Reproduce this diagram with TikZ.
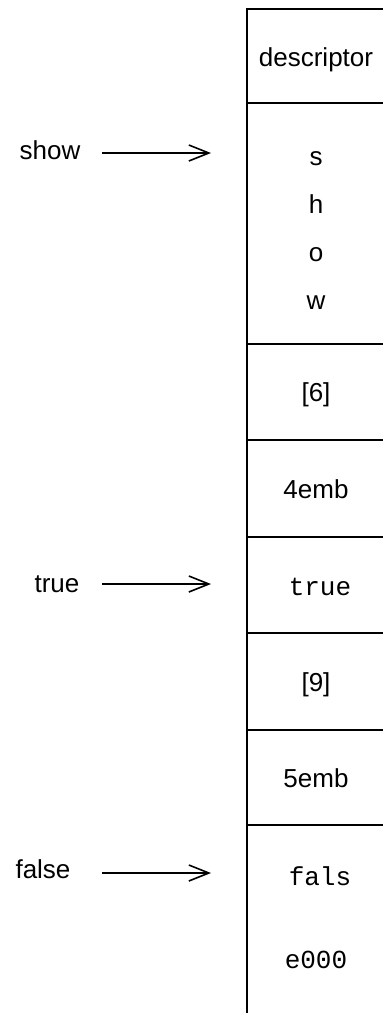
\documentclass[tikz,border=0pt]{standalone}
\usepackage{fontspec}
\setmainfont{Liberation Sans}
\setmonofont{Liberation Mono}
\usetikzlibrary{arrows.meta}
\begin{document}
\begin{tikzpicture}[x=1pt,y=-1pt,
  wall/.style={line width=1.6pt},
  txt/.style={font=\fontsize{26}{30}\selectfont, inner sep=0pt, anchor=base},
  mono/.style={font=\ttfamily\fontsize{26}{30}\selectfont, inner sep=0pt, anchor=base},
  ptr/.style={line width=1.6pt, -{Straight Barb[length=20pt,width=16pt,line width=1.6pt]}}]
\useasboundingbox (0,0) rectangle (383,1013);
% column
\draw[wall] (383,9) -- (247,9) -- (247,1013);
\foreach \yy in {103,344,440,537,633,730,825}
  \draw[wall] (247,\yy) -- (383,\yy);
% cell contents
\node[txt] (desc) at (316,66) {descriptor};
\node[txt] (cs) at (316,165) {s};
\node[txt] (ch) at (316,213) {h};
\node[txt] (co) at (316,261) {o};
\node[txt] (cw) at (316,309) {w};
\node[txt] (c6) at (316,401) {[6]};
\node[txt] (e4) at (316,498) {4emb};
\node[mono] (tr) at (320,595) {true};
\node[txt] (c9) at (316,691) {[9]};
\node[txt] (e5) at (316,787) {5emb};
\node[mono] (fa) at (320,885) {fals};
\node[mono] (e0) at (316,968) {e000};
% labels and pointers
\node[txt] (lshow) at (50,159) {show};
\node[txt] (ltrue) at (57,592) {true};
\node[txt] (lfalse) at (43,878) {false};
\coordinate (s1) at (102,153); \coordinate (t1) at (211,153);
\coordinate (s2) at (102,584); \coordinate (t2) at (211,584);
\coordinate (s3) at (102,873); \coordinate (t3) at (211,873);
\draw[ptr] (s1) -- (t1);
\draw[ptr] (s2) -- (t2);
\draw[ptr] (s3) -- (t3);
\end{tikzpicture}
\end{document}
